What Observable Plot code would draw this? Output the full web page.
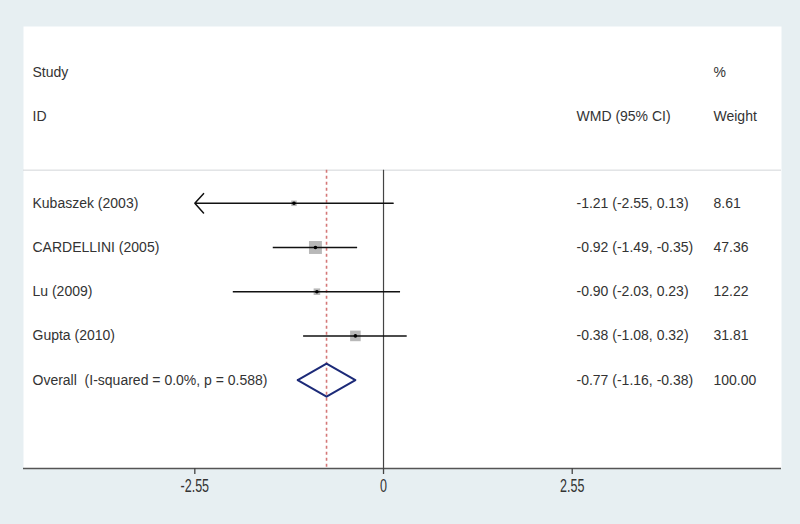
<!DOCTYPE html>
<html><head><meta charset="utf-8">
<script src="https://cdn.jsdelivr.net/npm/d3@7"></script>
<script src="https://cdn.jsdelivr.net/npm/@observablehq/plot@0.6"></script>
<style>
html,body{margin:0;padding:0;background:#e7eff2;}
</style></head><body><div id="chart"></div>
<script>
// ---- data ----
const studies = ["Kubaszek (2003)", "CARDELLINI (2005)", "Lu (2009)", "Gupta (2010)"];
const wmd = [-1.21, -0.92, -0.90, -0.38];
const lower = [-2.55, -1.49, -2.03, -1.08];
const upper = [0.13, -0.35, 0.23, 0.32];
const weights = [8.61, 47.36, 12.22, 31.81];
const overallLabel = "Overall  (I-squared = 0.0%, p = 0.588)";
const overallWmd = -0.77, overallLower = -1.16, overallUpper = -0.38, overallWeight = 100.00;
const xTicks = [-2.55, 0, 2.55];
const headerTop = ["Study", "", "%"];
const headerBottom = ["ID", "WMD (95% CI)", "Weight"];

// ---- table ----
const f2 = v => v.toFixed(2);
const rows = studies.map((s, i) => ({
  label: s, row: i + 1, est: wmd[i], lo: lower[i], hi: upper[i], w: weights[i],
  ci: `${f2(wmd[i])} (${f2(lower[i])}, ${f2(upper[i])})`, wt: f2(weights[i])
}));
const overallRow = {label: overallLabel, row: studies.length + 1, est: overallWmd, lo: overallLower, hi: overallUpper,
  ci: `${f2(overallWmd)} (${f2(overallLower)}, ${f2(overallUpper)})`, wt: f2(overallWeight)};
const textRows = [...rows, overallRow];
const limit = xTicks[0];
const arrowRows = rows.filter(d => d.lo <= limit);
const lineRows = rows.filter(d => d.lo > limit);
const dh = 0.375;
const diamond = [
  {x: overallRow.lo, y: overallRow.row}, {x: overallRow.est, y: overallRow.row - dh},
  {x: overallRow.hi, y: overallRow.row}, {x: overallRow.est, y: overallRow.row + dh},
  {x: overallRow.lo, y: overallRow.row}
];
const headers = [
  ...headerTop.map((t, i) => ({t, row: -2, col: i})),
  ...headerBottom.map((t, i) => ({t, row: -1, col: i}))
].filter(d => d.t);
const colDx = [9, 553, 690];
const sepRow = 0.25, axisRow = 7;

const txt = {fontSize: 14, fill: "#333", textAnchor: "start", frameAnchor: "left"};

const chart = Plot.plot({
  width: 800, height: 524,
  marginLeft: 23, marginRight: 19, marginTop: 26, marginBottom: 56,
  style: {fontFamily: "'Liberation Sans', Arial, Helvetica, sans-serif", background: "#e7eff2"},
  x: {domain: [-4.865, 5.378]},
  y: {domain: [-3, axisRow], reverse: true, axis: null},
  r: {type: "sqrt", domain: [0, 47.36], range: [0, 7.3]},
  marks: [
    Plot.frame({fill: "white", stroke: null}),
    Plot.ruleY([sepRow], {stroke: "#d3d6d8", strokeWidth: 1}),
    Plot.ruleX([overallWmd], {y1: sepRow, y2: axisRow, stroke: "#d47878", strokeWidth: 1.6, strokeDasharray: "3,3"}),
    Plot.ruleX([0], {y1: sepRow, y2: axisRow, stroke: "#444", strokeWidth: 1.2}),
    Plot.ruleY([axisRow], {stroke: "#555", strokeWidth: 1.5}),
    Plot.axisX(xTicks, {tickSize: 6, tickPadding: 4, tickFormat: d => String(d), fontSize: 19,
      stroke: "#444", fill: "#333", strokeWidth: 1.3, ariaLabel: "x-axis"}),
    Plot.dot(rows, {x: "est", y: "row", r: "w", symbol: "square", fill: "#b8b8b8", stroke: null}),
    Plot.ruleY(lineRows, {y: "row", x1: "lo", x2: "hi", stroke: "#111", strokeWidth: 1.5}),
    Plot.arrow(arrowRows, {x1: "hi", y1: "row", x2: "lo", y2: "row", stroke: "#111", strokeWidth: 1.5, headAngle: 96, headLength: 13}),
    Plot.dot(rows, {x: "est", y: "row", r: 1.8, fill: "#000"}),
    Plot.line(diamond, {x: "x", y: "y", stroke: "#1c2a78", strokeWidth: 2, curve: "linear"}),
    Plot.text(textRows, {...txt, y: "row", text: "label", dx: colDx[0]}),
    Plot.text(textRows, {...txt, y: "row", text: "ci", dx: colDx[1]}),
    Plot.text(textRows, {...txt, y: "row", text: "wt", dx: colDx[2]}),
    ...colDx.map((dx, c) => Plot.text(headers.filter(d => d.col === c), {...txt, y: "row", text: "t", dx, dy: 2}))
  ]
});
// condensed look for the tick labels
const sx = 0.66;
chart.querySelectorAll("g[aria-label='x-axis tick label'] text").forEach(t => {
  const tr = t.getAttribute("transform") || "";
  t.setAttribute("transform", tr + ` scale(${sx},1)`);
  const x = t.getAttribute("x");
  if (x != null) t.setAttribute("x", +x / sx);
});
document.getElementById("chart").appendChild(chart);
</script></body></html>
